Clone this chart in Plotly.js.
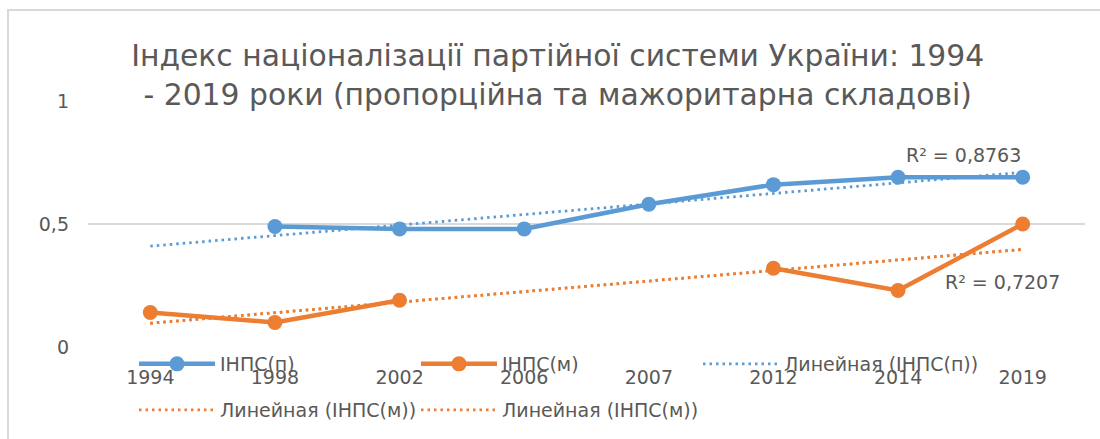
<!DOCTYPE html>
<html>
<head>
<meta charset="utf-8">
<script src="https://cdn.plot.ly/plotly-3.0.1.min.js"></script>
<style>
  html, body { margin: 0; padding: 0; background: #fff; }
  #wrap { position: relative; width: 1100px; height: 439px; overflow: hidden; }
  #chart { width: 1100px; height: 439px; }
  #frame { position: absolute; left: 7px; top: 9px; width: 1200px; height: 600px;
           border-left: 2px solid #d9d9d9; border-top: 2px solid #d9d9d9; pointer-events: none; }
</style>
</head>
<body>
<div id="wrap"><div id="chart"></div><div id="frame"></div></div>
<script>
// ---- data ----
const years = ['1994', '1998', '2002', '2006', '2007', '2012', '2014', '2019'];
const inpsP = [null, 0.49, 0.48, 0.48, 0.58, 0.66, 0.69, 0.69];   // ІНПС(п)
const inpsM = [0.14, 0.10, 0.19, null, null, 0.32, 0.23, 0.50];   // ІНПС(м)
const seriesNames = ['ІНПС(п)', 'ІНПС(м)', 'Линейная (ІНПС(п))', 'Линейная (ІНПС(м))'];
const r2Labels = ['R² = 0,8763', 'R² = 0,7207'];
const titleText = 'Індекс націоналізації партійної системи України: 1994<br>- 2019 роки (пропорційна та мажоритарна складові)';

// linear trendline (least squares on category index 1..n, as Excel does)
function trend(vals) {
  const xs = [], ys = [];
  vals.forEach((v, i) => { if (v !== null) { xs.push(i + 1); ys.push(v); } });
  const n = xs.length;
  const mx = xs.reduce((a, b) => a + b, 0) / n;
  const my = ys.reduce((a, b) => a + b, 0) / n;
  let sxy = 0, sxx = 0;
  for (let i = 0; i < n; i++) { sxy += (xs[i] - mx) * (ys[i] - my); sxx += (xs[i] - mx) ** 2; }
  const b = sxy / sxx, a = my - b * mx;
  return vals.map((_, i) => a + b * (i + 1));
}

const BLUE = '#5B9BD5', ORANGE = '#ED7D31', TXT = '#595959';
const FONT = 'DejaVu Sans, Open Sans, sans-serif';
const trendP = trend(inpsP);
const trendM = trend(inpsM);
const DOTS = '2.5px,4px';

const traces = [
  { x: years, y: inpsP, name: seriesNames[0], type: 'scatter', mode: 'lines+markers',
    line: { color: BLUE, width: 4.5 }, marker: { color: BLUE, size: 15 }, legend: 'legend' },
  { x: years, y: inpsM, name: seriesNames[1], type: 'scatter', mode: 'lines+markers',
    line: { color: ORANGE, width: 4.5 }, marker: { color: ORANGE, size: 15 }, legend: 'legend' },
  { x: years, y: trendP, name: seriesNames[2], type: 'scatter', mode: 'lines',
    line: { color: BLUE, width: 2.8, dash: DOTS }, legend: 'legend' },
  { x: years, y: trendM, name: seriesNames[3], type: 'scatter', mode: 'lines',
    line: { color: ORANGE, width: 2.8, dash: DOTS }, legend: 'legend2' },
  { x: years, y: trendM, name: seriesNames[3], type: 'scatter', mode: 'lines',
    line: { color: ORANGE, width: 2.8, dash: DOTS }, legend: 'legend2' }
];

const legendCommon = {
  orientation: 'h', xref: 'paper', yref: 'container', xanchor: 'left', yanchor: 'middle',
  font: { family: FONT, size: 19, color: TXT }, bgcolor: 'rgba(0,0,0,0)',
  entrywidth: 191, entrywidthmode: 'pixels', itemwidth: 76, traceorder: 'normal'
};

const layout = {
  width: 1100, height: 439,
  margin: { l: 88, r: 15, t: 101, b: 92, autoexpand: false },
  paper_bgcolor: '#fff', plot_bgcolor: '#fff',
  separators: ', ',
  font: { family: FONT, size: 19, color: TXT },
  title: { text: titleText, font: { family: FONT, size: 29.8, color: TXT },
           x: 0.507, xanchor: 'center', xref: 'container',
           y: 1 - 66 / 439, yanchor: 'top', yref: 'container' },
  xaxis: { type: 'category', range: [-0.5, 7.5], showgrid: false, zeroline: false, showline: false,
           automargin: false, ticks: '', ticklabelstandoff: 17,
           tickfont: { family: FONT, size: 19, color: TXT }, fixedrange: true },
  yaxis: { range: [0, 1], dtick: 0.5, tick0: 0, showgrid: true, gridcolor: '#d9d9d9', gridwidth: 1.3,
           zeroline: false, showline: false, automargin: false, ticks: '', ticklabelstandoff: 18,
           tickfont: { family: FONT, size: 19, color: TXT }, fixedrange: true },
  showlegend: true,
  legend: Object.assign({}, legendCommon, { x: (134 - 88) / 997, y: 1 - 364 / 439 }),
  legend2: Object.assign({}, legendCommon, { x: (134 - 88) / 997, y: 1 - 410 / 439 }),
  annotations: [
    { xref: 'x', yref: 'y', x: 6, y: trendP[6], text: r2Labels[0], showarrow: false,
      xshift: 65, yshift: 28, font: { family: FONT, size: 19, color: TXT } },
    { xref: 'x', yref: 'y', x: 7, y: trendM[7], text: r2Labels[1], showarrow: false,
      xshift: -20, yshift: -33, font: { family: FONT, size: 19, color: TXT } }
  ]
};

Plotly.newPlot('chart', traces, layout, { displayModeBar: false, staticPlot: true });
</script>
</body>
</html>
